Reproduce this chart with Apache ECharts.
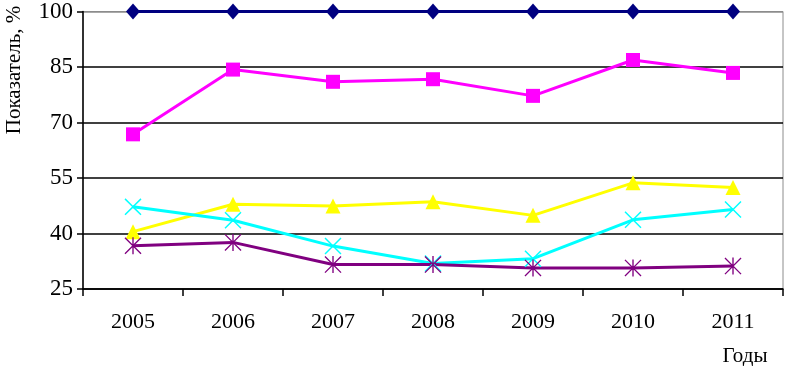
<!DOCTYPE html>
<html>
<head>
<meta charset="utf-8">
<script src="https://cdn.jsdelivr.net/npm/echarts@6/dist/echarts.min.js"></script>
<style>
  html, body { margin: 0; padding: 0; background: #fff; }
  #chart { width: 785px; height: 366px; }
</style>
</head>
<body>
<div id="chart"></div>
<script>
// годы и значения показателей, %
var years = ['2005', '2006', '2007', '2008', '2009', '2010', '2011'];
var s_navy = [100, 100, 100, 100, 100, 100, 100];
var s_magenta = [66.8, 84.3, 81.0, 81.7, 77.2, 86.9, 83.4];
var s_yellow = [40.5, 47.9, 47.4, 48.6, 44.9, 53.7, 52.4];
var s_cyan = [47.2, 43.6, 36.6, 31.9, 33.2, 43.7, 46.5];
var s_purple = [36.7, 37.6, 31.6, 31.6, 30.7, 30.7, 31.2];
var y_ticks = [25, 40, 55, 70, 85, 100];

var font = '"Liberation Serif", "Times New Roman", serif';

// крестик и звёздочка как в Excel
var cross_path = 'path://M0,1.2 L1.2,0 L10,8.8 L18.8,0 L20,1.2 L11.2,10 L20,18.8 L18.8,20 L10,11.2 L1.2,20 L0,18.8 L8.8,10 Z';
var star_path = 'path://M0,1.1 L1.1,0 L20,18.9 L18.9,20 Z M18.9,0 L20,1.1 L1.1,20 L0,18.9 Z M9.2,0 L10.8,0 L10.8,20 L9.2,20 Z';

function make_series(data, color, symbol, size) {
    return {
        type: 'line',
        data: data,
        symbol: symbol,
        symbolSize: size,
        clip: false,
        animation: false,
        lineStyle: {color: color, width: 3},
        itemStyle: {color: color, borderWidth: 0}
    };
}

var chart = echarts.init(document.getElementById('chart'));
var option = {
    animation: false,
    grid: {
        left: 83, right: 2, top: 8, bottom: 77,
        show: true, borderColor: '#8c8c8c', borderWidth: 1
    },
    xAxis: {
        type: 'category',
        data: years,
        boundaryGap: true,
        axisLine: {lineStyle: {color: '#000', width: 1.5}},
        axisTick: {show: true, length: 7, lineStyle: {color: '#000', width: 1.5}},
        axisLabel: {color: '#000', fontFamily: font, fontSize: 22, margin: 22}
    },
    yAxis: {
        type: 'value',
        min: y_ticks[0],
        max: y_ticks[y_ticks.length - 1],
        interval: 15,
        axisLine: {show: true, lineStyle: {color: '#000', width: 1.5}},
        axisTick: {show: true, length: 6, lineStyle: {color: '#000', width: 1.5}},
        axisLabel: {color: '#000', fontFamily: font, fontSize: 23, margin: 10},
        splitLine: {show: true, lineStyle: {color: ['#000', '#000', '#000', '#000', '#000', '#8c8c8c'], width: 1.5}}
    },
    graphic: [
        {
            type: 'text',
            x: 14, y: 70,
            rotation: Math.PI / 2,
            style: {
                text: 'Показатель, %',
                font: '21px ' + font,
                fill: '#000',
                textAlign: 'center',
                textVerticalAlign: 'middle'
            }
        },
        {
            type: 'text',
            x: 745, y: 356,
            style: {
                text: 'Годы',
                font: '21px ' + font,
                fill: '#000',
                textAlign: 'center',
                textVerticalAlign: 'middle'
            }
        }
    ],
    series: [
        make_series(s_navy, '#000080', 'diamond', [14, 16]),
        make_series(s_magenta, '#ff00ff', 'rect', 14),
        make_series(s_yellow, '#ffff00', 'triangle', 15),
        make_series(s_cyan, '#00ffff', cross_path, 17),
        make_series(s_purple, '#800080', star_path, 17)
    ]
};
chart.setOption(option);
</script>
</body>
</html>
